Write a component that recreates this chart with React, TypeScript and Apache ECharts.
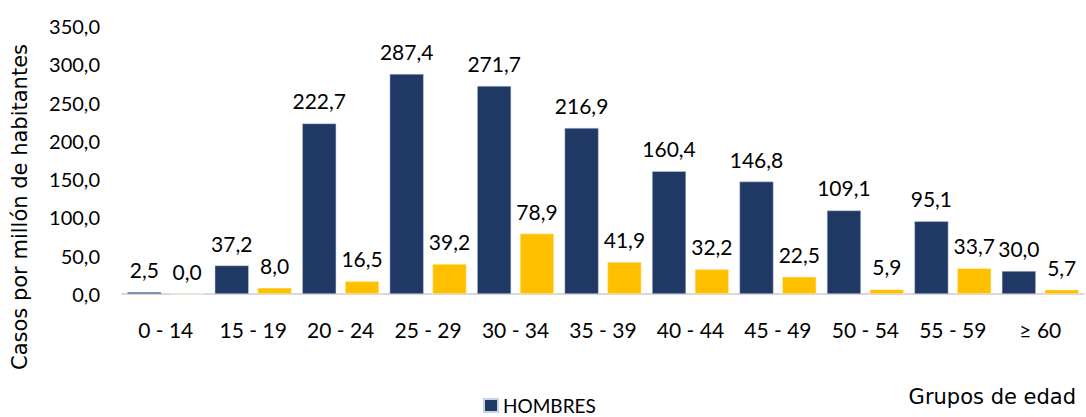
import React, { useEffect, useRef } from "react";
import * as echarts from "echarts";

const categories = ["0 - 14", "15 - 19", "20 - 24", "25 - 29", "30 - 34", "35 - 39", "40 - 44", "45 - 49", "50 - 54", "55 - 59", "≥ 60"];
const hombres = [2.5, 37.2, 222.7, 287.4, 271.7, 216.9, 160.4, 146.8, 109.1, 95.1, 30.0];
const mujeres = [0.0, 8.0, 16.5, 39.2, 78.9, 41.9, 32.2, 22.5, 5.9, 33.7, 5.7];

const FONT = "Lato";
const WIDE = "DejaVu Sans";
const fmt = (v: number) => v.toFixed(1).replace(".", ",");

export default function App() {
  const ref = useRef<HTMLDivElement>(null);
  useEffect(() => {
    if (!ref.current) return;
    const chart = echarts.init(ref.current, undefined, { renderer: "svg" });
    const labelStyle = {
      show: true,
      position: "top" as const,
      distance: 12,
      color: "#000",
      fontFamily: FONT,
      fontSize: 21,
      formatter: (p: any) => fmt(p.value),
    };
    chart.setOption({
      animation: false,
      textStyle: { fontFamily: FONT },
      grid: { left: 122, right: 2, top: 26, bottom: 123, containLabel: false },
      legend: {
        data: ["HOMBRES"],
        left: 483,
        top: 396,
        padding: 0,
        itemWidth: 14,
        itemHeight: 13,
        itemGap: 6,
        textStyle: { fontFamily: FONT, fontSize: 19, lineHeight: 19, color: "#000" },
        icon: "rect",
      },
      xAxis: {
        type: "category",
        data: categories,
        axisLine: { lineStyle: { color: "#d9d9d9", width: 2 } },
        axisTick: { show: false },
        axisLabel: { color: "#000", fontFamily: FONT, fontSize: 21, margin: 25, interval: 0 },
      },
      yAxis: {
        type: "value",
        min: 0,
        max: 350,
        interval: 50,
        splitLine: { show: false },
        axisLine: { show: false },
        axisTick: { show: false },
        axisLabel: { color: "#000", fontFamily: FONT, fontSize: 20, margin: 22, formatter: (v: number) => fmt(v) },
      },
      graphic: [
        {
          type: "text",
          rotation: Math.PI / 2,
          style: { text: "Casos por millón de habitantes", fontFamily: WIDE, fontSize: 21, fill: "#000" },
          x: 9, y: 370,
        },
        {
          type: "text",
          right: 10,
          top: 386,
          style: { text: "Grupos de edad", fontFamily: WIDE, fontSize: 21, fill: "#000" },
        },
      ],
      series: [
        {
          name: "HOMBRES",
          type: "bar",
          data: hombres,
          barWidth: 34,
          barGap: "26%",
          itemStyle: { color: "#203864", borderColor: "#c9d3e6", borderWidth: 0.5 },
          label: labelStyle,
        },
        {
          name: "MUJERES",
          type: "bar",
          data: mujeres,
          barWidth: 34,
          barGap: "26%",
          itemStyle: { color: "#FFC000", borderColor: "#fff2cc", borderWidth: 0.5 },
          label: labelStyle,
        },
      ],
    });
    return () => chart.dispose();
  }, []);
  return <div ref={ref} style={{ width: 1086, height: 417, position: "absolute", left: 0, top: 0 }} />;
}
